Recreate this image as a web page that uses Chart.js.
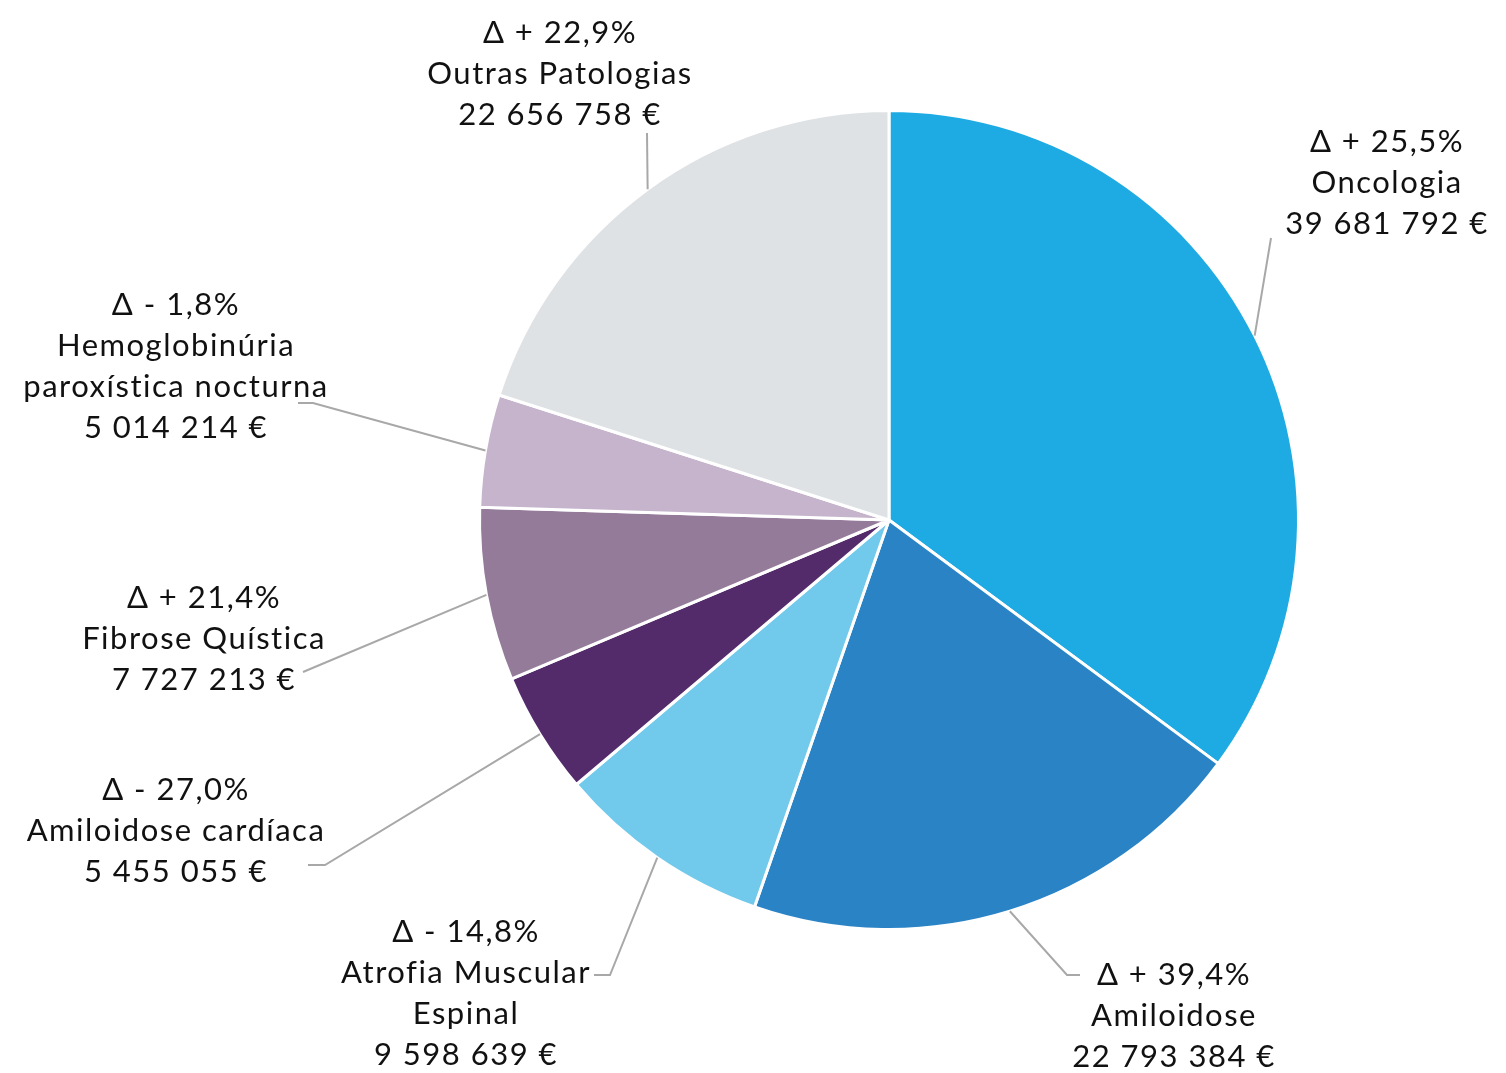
<!DOCTYPE html>
<html>
<head>
<meta charset="utf-8">
<script src="https://cdn.jsdelivr.net/npm/chart.js@4"></script>
<style>
html,body{margin:0;padding:0;background:#fff;}
#wrap{width:1506px;height:1073px;position:relative;}
</style>
</head>
<body>
<div id="wrap"><canvas id="c" width="1506" height="1073"></canvas></div>
<script>
// ---- data ----
const categories = ["Oncologia", "Amiloidose", "Atrofia Muscular Espinal", "Amiloidose cardíaca", "Fibrose Quística", "Hemoglobinúria paroxística nocturna", "Outras Patologias"];
const values = [39681792, 22793384, 9598639, 5455055, 7727213, 5014214, 22656758];
const deltas = ["+ 25,5%", "+ 39,4%", "- 14,8%", "- 27,0%", "+ 21,4%", "- 1,8%", "+ 22,9%"];
const labelLines = [["Oncologia"], ["Amiloidose"], ["Atrofia Muscular", "Espinal"], ["Amiloidose cardíaca"], ["Fibrose Quística"], ["Hemoglobinúria", "paroxística nocturna"], ["Outras Patologias"]];

// ---- styles ----
const colors = ["#1EABE3", "#2A83C5", "#71C9EB", "#532B6B", "#957B9A", "#C5B4CB", "#DFE2E5"];
// label placement: text center x, first baseline y, leader-line path points after the arc midpoint
const labelPos = [
  {x: 1386, y: 152, path: [[1271, 238]]},
  {x: 1173, y: 985, path: [[1067, 975], [1080, 975]]},
  {x: 465, y: 942, path: [[610, 975], [594, 975]]},
  {x: 175, y: 800, path: [[325, 865], [308, 865]]},
  {x: 203, y: 608, path: [[303, 672]]},
  {x: 175, y: 315, path: [[313, 403], [298, 403]]},
  {x: 559, y: 43, path: [[647, 133]]}
];
const lineH = 41;
const FONT = '31px Lato, "DejaVu Sans", sans-serif';

function fmt(v){ return String(v).replace(/\B(?=(\d{3})+(?!\d))/g, " ") + " €"; }

const labelPlugin = {
  id: 'outLabels',
  afterDraw(chart){
    const ctx = chart.ctx;
    const meta = chart.getDatasetMeta(0);
    ctx.save();
    meta.data.forEach((arc, i) => {
      const p = arc.getProps(['x','y','startAngle','endAngle','outerRadius'], true);
      const mid = (p.startAngle + p.endAngle) / 2;
      const sx = p.x + Math.cos(mid) * p.outerRadius;
      const sy = p.y + Math.sin(mid) * p.outerRadius;
      const lp = labelPos[i];
      ctx.strokeStyle = '#A8A8A8';
      ctx.lineWidth = 2;
      ctx.beginPath();
      ctx.moveTo(sx, sy);
      lp.path.forEach(pt => ctx.lineTo(pt[0], pt[1]));
      ctx.stroke();
      const lines = ["Δ " + deltas[i], ...labelLines[i], fmt(values[i])];
      ctx.fillStyle = '#111111';
      ctx.font = FONT;
      if ('letterSpacing' in ctx) ctx.letterSpacing = '1.5px';
      ctx.textAlign = 'center';
      ctx.textBaseline = 'alphabetic';
      lines.forEach((t, k) => ctx.fillText(t, lp.x + 1, lp.y + k * lineH));
    });
    ctx.restore();
  }
};

new Chart(document.getElementById('c'), {
  type: 'pie',
  data: {
    labels: categories,
    datasets: [{
      data: values,
      backgroundColor: colors,
      borderColor: '#ffffff',
      borderWidth: 3
    }]
  },
  options: {
    responsive: false,
    animation: false,
    layout: {padding: {left: 478, right: 206, top: 109, bottom: 142}},
    plugins: {legend: {display: false}, tooltip: {enabled: false}}
  },
  plugins: [labelPlugin]
});
</script>
</body>
</html>
